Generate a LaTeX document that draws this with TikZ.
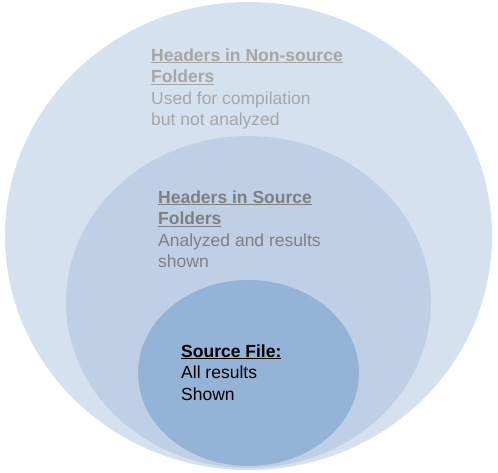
\documentclass[tikz,border=0pt]{standalone}
\usepackage{fontspec}
\setmainfont{Liberation Sans}
\usetikzlibrary{shapes.geometric}
\definecolor{outerc}{HTML}{D6E1EF}
\definecolor{midc}{HTML}{BFD0E6}
\definecolor{innerc}{HTML}{95B3D7}
\definecolor{grayA}{HTML}{A6A6A6}
\definecolor{grayB}{HTML}{7F7F7F}
\newsavebox{\ulbox}
\newcommand{\myul}[1]{\sbox{\ulbox}{#1}\leavevmode\rlap{\rule[-2.4pt]{\wd\ulbox}{1.3pt}}\usebox{\ulbox}}
\begin{document}
\begin{tikzpicture}[x=1pt,y=-1pt,
  blob/.style={ellipse,inner sep=0pt,draw=none},
  label/.style={anchor=base west,inner sep=0pt,align=left,
    font=\fontsize{17.5}{21.5}\selectfont}]
\useasboundingbox (0,0) rectangle (498,472);
\node[blob,fill=outerc,minimum width=487pt,minimum height=468pt] (outer) at (248.5,236) {};
\node[blob,fill=midc,minimum width=365pt,minimum height=332pt] (mid) at (248.5,302) {};
\node[blob,fill=innerc,minimum width=221pt,minimum height=186pt] (inner) at (248.5,373) {};
\node[label,text=grayA] (t1) at (151,125.5) {\textbf{\myul{Headers in Non-source}}\\\textbf{\myul{Folders}}\\Used for compilation\\but not analyzed};
\node[label,text=grayB] (t2) at (158,267.5) {\textbf{\myul{Headers in Source}}\\\textbf{\myul{Folders}}\\Analyzed and results\\shown};
\node[label,text=black] (t3) at (181,400) {\textbf{\myul{Source File:}}\\All results\\Shown};
\end{tikzpicture}
\end{document}
